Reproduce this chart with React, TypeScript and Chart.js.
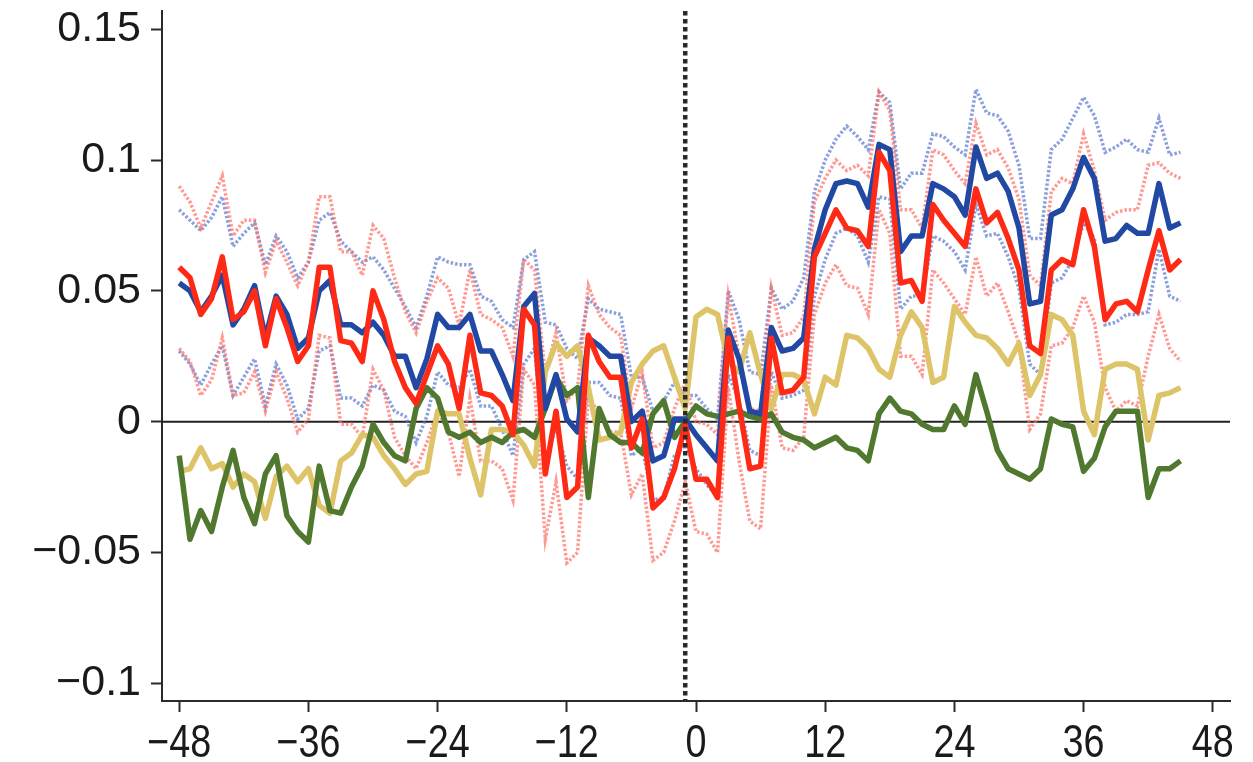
import React, { useEffect, useRef } from "react";
import { Chart, registerables } from "chart.js";

Chart.register(...registerables);

const months: number[] = Array.from({ length: 94 }, (_, i) => i - 48);
const xTicks = [-48, -36, -24, -12, 0, 12, 24, 36, 48];
const yTicks = [-0.1, -0.05, 0, 0.05, 0.1, 0.15];
const eventMonth = -1;

const blue = [
  0.053, 0.050, 0.042, 0.048, 0.056, 0.037, 0.043, 0.052, 0.032, 0.048,
  0.041, 0.028, 0.032, 0.050, 0.054, 0.037, 0.037, 0.034, 0.038, 0.033,
  0.025, 0.025, 0.013, 0.024, 0.041, 0.036, 0.036, 0.041, 0.027, 0.027,
  0.018, 0.008, 0.044, 0.049, 0.005, 0.018, 0.001, -0.004, 0.032, 0.029,
  0.025, 0.025, 0.000, 0.004, -0.015, -0.013, 0.001, 0.001, -0.005, -0.010,
  -0.015, 0.035, 0.024, 0.004, 0.003, 0.036, 0.027, 0.028, 0.032, 0.066,
  0.081, 0.091, 0.092, 0.091, 0.082, 0.106, 0.104, 0.065, 0.071, 0.071,
  0.091, 0.089, 0.086, 0.079, 0.105, 0.093, 0.095, 0.088, 0.074, 0.045,
  0.046, 0.079, 0.081, 0.089, 0.101, 0.093, 0.069, 0.070, 0.075, 0.072,
  0.072, 0.091, 0.074, 0.076,
];

const red = [
  0.059, 0.055, 0.041, 0.047, 0.063, 0.039, 0.042, 0.050, 0.029, 0.047,
  0.036, 0.023, 0.029, 0.059, 0.059, 0.031, 0.030, 0.023, 0.050, 0.039,
  0.023, 0.013, 0.007, 0.018, 0.029, 0.022, 0.005, 0.033, 0.011, 0.010,
  0.006, -0.005, 0.043, 0.037, -0.020, 0.004, -0.029, -0.025, 0.033, 0.023,
  0.017, 0.017, -0.010, 0.001, -0.033, -0.029, -0.018, -0.001, -0.022, -0.022,
  -0.029, 0.032, 0.006, -0.018, -0.017, 0.032, 0.011, 0.012, 0.017, 0.063,
  0.072, 0.081, 0.074, 0.073, 0.067, 0.103, 0.096, 0.053, 0.054, 0.046,
  0.083, 0.077, 0.072, 0.067, 0.089, 0.076, 0.080, 0.070, 0.058, 0.029,
  0.026, 0.058, 0.062, 0.060, 0.081, 0.067, 0.039, 0.045, 0.046, 0.042,
  0.058, 0.073, 0.058, 0.062,
];

const green = [
  -0.013, -0.045, -0.034, -0.042, -0.025, -0.011, -0.029, -0.039, -0.020, -0.013,
  -0.036, -0.042, -0.046, -0.017, -0.034, -0.035, -0.025, -0.017, -0.001, -0.008,
  -0.013, -0.015, 0.005, 0.013, 0.009, -0.004, -0.006, -0.004, -0.008, -0.006,
  -0.008, -0.004, -0.003, -0.006, 0.005, 0.017, 0.010, 0.013, -0.029, 0.005,
  -0.005, -0.008, -0.008, -0.012, 0.003, 0.008, -0.006, 0.000, 0.006, 0.003,
  0.002, 0.003, 0.004, 0.002, 0.001, 0.003, -0.004, -0.006, -0.007, -0.010,
  -0.008, -0.006, -0.010, -0.011, -0.015, 0.003, 0.009, 0.004, 0.003, -0.001,
  -0.003, -0.003, 0.006, -0.001, 0.018, 0.004, -0.011, -0.018, -0.020, -0.022,
  -0.018, 0.001, -0.001, -0.002, -0.019, -0.014, -0.002, 0.004, 0.004, 0.004,
  -0.029, -0.018, -0.018, -0.015,
];

const gold = [
  -0.019, -0.018, -0.010, -0.018, -0.016, -0.025, -0.020, -0.023, -0.037, -0.021,
  -0.017, -0.023, -0.018, -0.032, -0.035, -0.015, -0.012, -0.005, -0.006, -0.013,
  -0.018, -0.024, -0.020, -0.019, 0.004, 0.003, 0.003, -0.014, -0.028, -0.003,
  -0.003, -0.004, -0.009, -0.017, 0.019, 0.030, 0.025, 0.029, 0.013, -0.007,
  -0.006, -0.004, 0.015, 0.022, 0.027, 0.029, 0.017, 0.005, 0.040, 0.043,
  0.041, 0.023, 0.019, 0.034, 0.018, 0.005, 0.018, 0.018, 0.016, 0.003,
  0.017, 0.014, 0.033, 0.032, 0.028, 0.020, 0.017, 0.033, 0.042, 0.036,
  0.015, 0.017, 0.044, 0.038, 0.033, 0.032, 0.028, 0.022, 0.030, 0.010,
  0.018, 0.041, 0.039, 0.033, 0.004, -0.005, 0.020, 0.022, 0.022, 0.020,
  -0.007, 0.010, 0.011, 0.013,
];

const blueUpper = [
  0.081, 0.077, 0.073, 0.078, 0.086, 0.067, 0.072, 0.076, 0.060, 0.071,
  0.065, 0.055, 0.061, 0.077, 0.080, 0.069, 0.065, 0.061, 0.063, 0.058,
  0.051, 0.044, 0.036, 0.048, 0.063, 0.061, 0.060, 0.060, 0.048, 0.046,
  0.039, 0.036, 0.062, 0.065, 0.038, 0.037, 0.028, 0.024, 0.047, 0.043,
  0.042, 0.041, 0.017, 0.017, 0.004, 0.008, 0.015, 0.010, 0.010, 0.005,
  0.001, 0.050, 0.039, 0.019, 0.018, 0.051, 0.043, 0.046, 0.055, 0.088,
  0.100, 0.108, 0.113, 0.109, 0.104, 0.126, 0.122, 0.089, 0.095, 0.095,
  0.110, 0.109, 0.105, 0.102, 0.127, 0.118, 0.117, 0.111, 0.098, 0.070,
  0.070, 0.104, 0.108, 0.116, 0.124, 0.117, 0.103, 0.105, 0.108, 0.104,
  0.103, 0.116, 0.102, 0.103,
];

const blueLower = [
  0.027, 0.022, 0.014, 0.022, 0.029, 0.010, 0.017, 0.024, 0.006, 0.022,
  0.014, 0.001, 0.005, 0.027, 0.029, 0.009, 0.009, 0.006, 0.014, 0.012,
  0.004, 0.002, -0.008, 0.002, 0.019, 0.014, 0.013, 0.020, 0.006, 0.006,
  -0.003, -0.013, 0.022, 0.028, -0.015, -0.002, -0.017, -0.022, 0.015, 0.015,
  0.010, 0.009, -0.013, -0.010, -0.030, -0.029, -0.013, -0.009, -0.018, -0.024,
  -0.029, 0.018, 0.008, -0.011, -0.013, 0.019, 0.009, 0.010, 0.012, 0.048,
  0.062, 0.072, 0.074, 0.071, 0.061, 0.086, 0.085, 0.043, 0.048, 0.048,
  0.071, 0.069, 0.065, 0.058, 0.083, 0.071, 0.072, 0.063, 0.051, 0.022,
  0.018, 0.053, 0.055, 0.062, 0.076, 0.070, 0.037, 0.038, 0.041, 0.041,
  0.042, 0.066, 0.048, 0.046,
];

const redUpper = [
  0.090, 0.084, 0.074, 0.084, 0.094, 0.071, 0.077, 0.077, 0.057, 0.069,
  0.061, 0.052, 0.061, 0.086, 0.086, 0.065, 0.065, 0.056, 0.075, 0.070,
  0.055, 0.042, 0.034, 0.046, 0.055, 0.051, 0.037, 0.058, 0.041, 0.039,
  0.036, 0.025, 0.062, 0.058, 0.018, 0.034, 0.008, 0.013, 0.052, 0.041,
  0.036, 0.033, 0.005, 0.019, -0.010, -0.008, 0.005, 0.015, 0.000, -0.001,
  -0.005, 0.048, 0.025, 0.005, 0.004, 0.051, 0.033, 0.034, 0.040, 0.084,
  0.093, 0.100, 0.096, 0.098, 0.094, 0.126, 0.119, 0.081, 0.081, 0.074,
  0.104, 0.102, 0.096, 0.091, 0.114, 0.102, 0.104, 0.097, 0.085, 0.056,
  0.052, 0.088, 0.093, 0.091, 0.110, 0.096, 0.077, 0.080, 0.081, 0.081,
  0.098, 0.099, 0.095, 0.093,
];

const redLower = [
  0.028, 0.023, 0.010, 0.016, 0.032, 0.010, 0.011, 0.019, 0.004, 0.019,
  0.009, -0.004, 0.001, 0.033, 0.032, -0.001, -0.001, -0.006, 0.020, 0.012,
  -0.006, -0.013, -0.018, -0.008, 0.004, -0.004, -0.021, 0.009, -0.015, -0.015,
  -0.018, -0.030, 0.020, 0.014, -0.045, -0.023, -0.054, -0.050, 0.010, 0.003,
  -0.004, -0.004, -0.028, -0.020, -0.053, -0.050, -0.038, -0.023, -0.042, -0.043,
  -0.050, 0.013, -0.015, -0.038, -0.041, 0.014, -0.010, -0.011, -0.006, 0.041,
  0.053, 0.060, 0.052, 0.051, 0.041, 0.081, 0.072, 0.025, 0.025, 0.018,
  0.058, 0.053, 0.047, 0.041, 0.063, 0.048, 0.053, 0.042, 0.030, -0.003,
  0.003, 0.029, 0.030, 0.036, 0.048, 0.038, 0.013, 0.004, 0.008, 0.006,
  0.025, 0.041, 0.028, 0.023,
];

const FONT = "'Liberation Sans', Arial, Helvetica, sans-serif";
const AXIS_COLOR = "#2a2a2a";

const fmt = (v: number, digits: number) => {
  const s = Math.abs(v) < 1e-9 ? "0" : String(Number(Math.abs(v).toFixed(digits)));
  return v < -1e-9 ? "\u2212" + s : s;
};

const toPts = (arr: number[]) => months.map((m, i) => ({ x: m, y: arr[i] }));

const mainLine = (data: number[], color: string) => ({
  data: toPts(data),
  borderColor: color,
  borderWidth: 5.5,
  pointRadius: 0,
  tension: 0,
  borderJoinStyle: "round" as const,
  borderCapStyle: "butt" as const,
  fill: false,
});

const ciLine = (data: number[], color: string) => ({
  data: toPts(data),
  borderColor: color,
  borderWidth: 3.5,
  borderDash: [2.5, 2],
  pointRadius: 0,
  tension: 0,
  fill: false,
});

// Reference lines + condensed x tick labels
const refLines = {
  id: "refLines",
  beforeDatasetsDraw(chart: any) {
    const { ctx, chartArea, scales } = chart;
    const y0 = scales.y.getPixelForValue(0);
    ctx.save();
    ctx.strokeStyle = "#222";
    ctx.lineWidth = 2;
    ctx.beginPath();
    ctx.moveTo(chartArea.left, y0);
    ctx.lineTo(chartArea.right, y0);
    ctx.stroke();
    ctx.restore();
  },
  afterDatasetsDraw(chart: any) {
    const { ctx, chartArea, scales } = chart;
    const x = scales.x.getPixelForValue(eventMonth);
    ctx.save();
    ctx.strokeStyle = "#2b2b2b";
    ctx.lineWidth = 4.5;
    ctx.setLineDash([4.5, 3.5]);
    ctx.beginPath();
    ctx.moveTo(x, chartArea.top);
    ctx.lineTo(x, chartArea.bottom);
    ctx.stroke();
    ctx.restore();
  },
  afterDraw(chart: any) {
    const { ctx, chartArea, scales } = chart;
    const sx = 0.82;
    ctx.save();
    ctx.fillStyle = "#1a1a1a";
    ctx.font = `46px ${FONT}`;
    ctx.textAlign = "center";
    ctx.textBaseline = "alphabetic";
    const baseY = chartArea.bottom + 56;
    xTicks.forEach((v) => {
      const px = scales.x.getPixelForValue(v);
      ctx.save();
      ctx.translate(px, baseY);
      ctx.scale(sx, 1);
      ctx.fillText(fmt(v, 0), 0, 0);
      ctx.restore();
    });
    ctx.restore();
  },
};

export default function App() {
  const ref = useRef<HTMLCanvasElement | null>(null);

  useEffect(() => {
    if (!ref.current) return;
    const chart = new Chart(ref.current, {
      type: "line",
      data: {
        datasets: [
          mainLine(red, "rgb(255,42,22)"),
          mainLine(blue, "rgb(33,72,163)"),
          mainLine(green, "rgb(80,120,46)"),
          mainLine(gold, "rgb(222,196,104)"),
          ciLine(redUpper, "rgba(255,110,100,0.7)"),
          ciLine(redLower, "rgba(255,110,100,0.7)"),
          ciLine(blueUpper, "rgba(90,120,205,0.7)"),
          ciLine(blueLower, "rgba(90,120,205,0.7)"),
        ] as any,
      },
      options: {
        responsive: false,
        animation: false,
        devicePixelRatio: 1,
        layout: { autoPadding: false, padding: { top: 11, right: 23, left: 0, bottom: 0 } },
        plugins: {
          legend: { display: false },
          tooltip: { enabled: false },
        },
        scales: {
          x: {
            type: "linear",
            min: -49.6,
            max: 49.6,
            afterBuildTicks: (scale: any) => {
              scale.ticks = xTicks.map((v) => ({ value: v }));
            },
            afterFit: (scale: any) => {
              scale.height = 61;
              scale.paddingLeft = 0;
              scale.paddingRight = 0;
            },
            grid: {
              drawOnChartArea: false,
              drawTicks: true,
              tickLength: 11,
              tickWidth: 2,
              tickColor: AXIS_COLOR,
            },
            border: { display: true, color: AXIS_COLOR, width: 2 },
            ticks: {
              display: false,
            },
          },
          y: {
            type: "linear",
            min: -0.1068,
            max: 0.157,
            afterBuildTicks: (scale: any) => {
              scale.ticks = yTicks.map((v) => ({ value: v }));
            },
            afterFit: (scale: any) => {
              scale.width = 162;
              scale.paddingTop = 0;
              scale.paddingBottom = 0;
            },
            grid: {
              drawOnChartArea: false,
              drawTicks: true,
              tickLength: 11,
              tickWidth: 2,
              tickColor: AXIS_COLOR,
            },
            border: { display: true, color: AXIS_COLOR, width: 2 },
            ticks: {
              padding: 10,
              color: "#1a1a1a",
              font: { family: FONT, size: 43 },
              callback: (v: any) => fmt(Number(v), 2),
            },
          },
        },
      },
      plugins: [refLines],
    });
    return () => chart.destroy();
  }, []);

  return (
    <div
      style={{
        position: "fixed",
        left: 0,
        top: 0,
        width: 1253,
        height: 762,
        background: "#fff",
      }}
    >
      <canvas ref={ref} width={1253} height={762} />
    </div>
  );
}
